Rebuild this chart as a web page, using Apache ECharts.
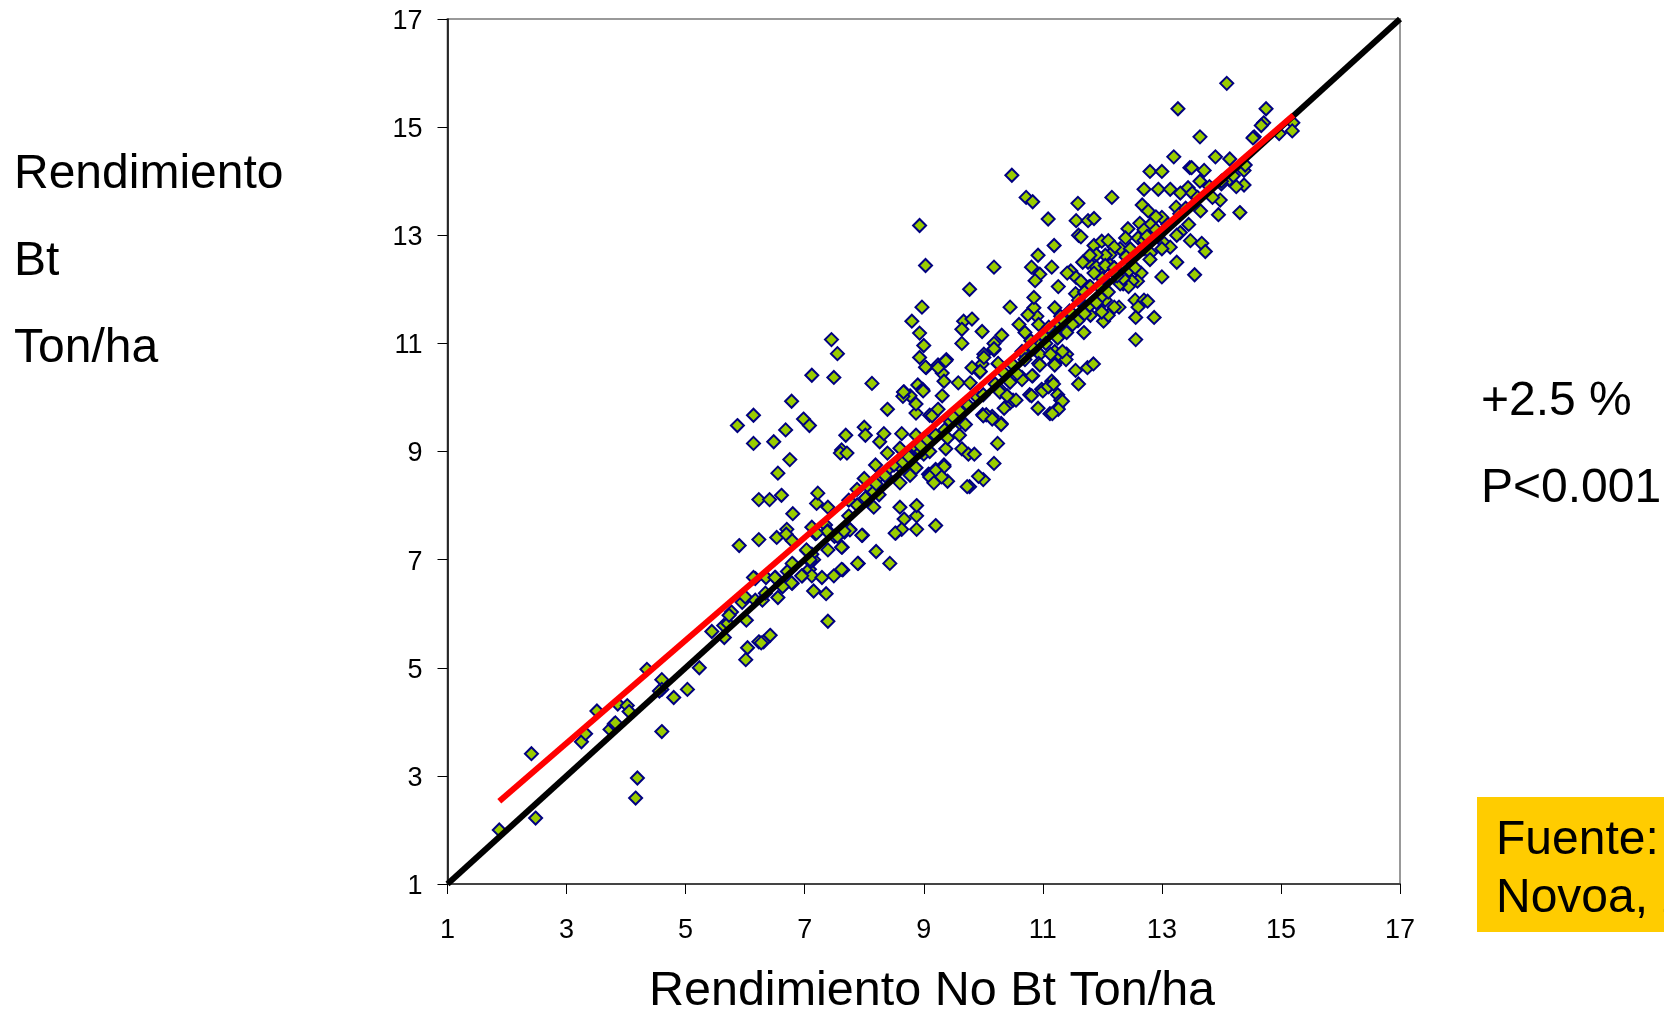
<!DOCTYPE html>
<html>
<head>
<meta charset="utf-8">
<title>Rendimiento Bt vs No Bt</title>
<style>html,body{margin:0;padding:0;background:#fff;overflow:hidden}#c{width:1664px;height:1011px}</style>
<script src="https://cdn.jsdelivr.net/npm/echarts@6/dist/echarts.min.js"></script>
</head>
<body>
<div id="c"></div>
<script>
const tickValues = [1,3,5,7,9,11,13,15,17];
const xTitle = 'Rendimiento No Bt Ton/ha';
const yTitleLines = ['Rendimiento','Bt','Ton/ha'];
const noteLines = ['+2.5 %','P<0.001'];
const sourceLines = ['Fuente:','Novoa, 2'];
const identityLine = [[1,1],[17,17]];
const trendLine = [[1.87,2.53],[15.21,15.22]];
const pointsLow = [[1.87,2.0],[2.41,3.41],[2.48,2.22],[3.25,3.63],[3.32,3.78],[3.51,4.2],[3.73,3.86],[3.8,3.96],[3.82,3.98],[3.86,4.33],[4.02,4.3],[4.05,4.19],[4.19,2.96],[4.16,2.59],[4.35,4.97],[4.6,4.78],[4.6,3.82],[4.6,4.6],[4.56,4.57],[4.8,4.45],[5.03,4.6],[5.23,5.0],[5.44,5.67],[5.64,5.78],[5.65,5.56],[5.71,5.82],[5.77,6.03],[5.73,5.97],[5.95,6.21],[6.0,6.31],[6.02,5.88],[6.04,5.37],[6.01,5.15],[6.23,5.48],[6.31,5.48],[6.27,5.46],[6.42,5.6],[6.17,6.25],[6.29,6.25],[6.34,6.38],[6.55,6.3],[6.17,6.65],[6.35,6.67],[6.51,6.67],[6.64,6.52],[6.79,6.56],[6.75,6.81],[6.81,6.91],[6.96,6.7],[7.08,6.82],[7.12,6.7],[7.29,6.67],[7.15,6.42],[7.36,6.37],[7.39,5.86],[7.49,6.7],[7.64,6.81],[7.9,6.93],[8.2,7.15],[8.43,6.93],[7.97,7.45],[7.63,7.23],[7.39,7.18],[7.04,7.16],[7.15,7.0],[7.1,6.96],[5.9,7.26],[6.23,7.37],[6.53,7.41],[6.7,7.56],[6.69,7.47],[6.79,7.35],[6.8,7.85],[7.12,7.6],[7.18,7.48],[7.35,7.64],[7.39,7.53],[7.5,7.43],[7.67,7.51],[7.76,7.56],[7.74,7.81],[7.88,8.01],[8.16,7.97],[7.2,8.04],[7.39,7.97],[6.23,8.11],[6.41,8.11],[8.6,7.97],[8.67,7.75],[8.88,7.81],[8.88,8.0],[8.53,7.49],[8.63,7.56],[8.88,7.56],[9.2,7.63],[6.61,8.19],[7.22,8.23],[6.55,8.6],[6.75,8.85]];
const pointsMid = [[5.87,9.48],[6.14,9.67],[6.14,9.15],[6.48,9.18],[6.68,9.4],[6.78,9.93],[6.98,9.6],[7.08,9.48],[7.12,10.41],[7.45,11.07],[7.55,10.81],[7.49,10.37],[8.13,10.26],[7.69,9.3],[8.0,9.45],[8.02,9.3],[8.26,9.18],[8.33,9.33],[8.63,9.33],[8.39,9.78],[8.87,9.71],[8.87,9.88],[8.77,10.03],[8.67,10.1],[8.65,10.02],[8.9,10.23],[8.98,10.15],[8.39,8.97],[7.62,9.03],[7.6,8.97],[7.71,8.97],[8.19,8.75],[8.6,9.06],[8.74,8.93],[8.87,9.07],[8.87,9.3],[9.0,8.95],[8.6,8.42],[8.77,8.56],[8.87,8.7],[8.6,8.72],[8.39,8.66],[8.07,8.35],[8.22,8.5],[9.08,8.58],[9.1,9.67],[8.25,8.2],[8.02,8.14],[7.88,8.3],[8.16,8.25],[7.74,8.1],[8.0,8.5],[9.1,8.57],[9.2,8.67],[9.34,8.75],[9.28,8.55],[9.4,8.45],[9.18,8.45],[9.77,8.35],[9.73,8.35],[8.52,7.49],[7.96,7.45],[7.76,7.55],[7.62,7.23],[7.38,7.52],[7.2,7.49],[7.55,7.43],[7.66,7.53],[7.89,6.93],[7.62,6.82],[6.95,6.7],[6.78,6.57],[6.14,6.67],[6.5,6.67],[6.63,6.5],[7.12,7.1],[7.03,7.18],[7.09,7.0],[6.71,6.78],[6.79,6.93],[8.2,8.4],[8.35,8.55],[8.5,8.75],[8.65,8.8],[8.75,8.9],[8.95,9.0],[9.05,9.2],[9.2,9.3],[9.35,9.4],[9.45,9.55],[9.6,9.75],[9.75,9.85],[9.9,10.0],[10.0,10.05],[10.2,10.25],[10.35,10.45],[10.5,10.6],[9.1,9.0],[8.95,9.1],[9.37,9.05],[9.4,9.25],[9.6,9.3],[9.64,9.05],[9.75,8.95],[9.85,8.95],[10.24,9.15],[10.18,8.78],[9.34,8.72],[9.2,8.65],[9.1,8.53],[9.3,8.53],[9.17,8.42],[10.0,8.48],[9.92,8.54],[10.3,9.52],[9.99,9.68],[10.15,9.65],[10.05,9.68],[9.5,9.63],[9.6,9.53],[9.14,9.66],[9.24,9.78],[8.99,10.12],[9.31,10.03],[9.04,10.55],[9.24,10.6],[9.38,10.7],[9.31,10.45],[9.34,10.3],[9.58,10.27],[9.78,10.27],[9.81,10.55],[9.98,10.62],[9.94,10.47],[10.01,10.8],[10.18,11.0],[10.18,10.88],[10.25,10.62],[8.93,10.74],[9.03,10.56],[8.66,10.1],[9.7,9.5],[10.0,9.66],[10.15,9.6],[10.3,9.5]];
const pointsUpperOutliers = [[8.93,13.18],[9.03,12.44],[8.97,11.67],[8.8,11.41],[8.93,11.19],[9.0,10.96],[9.77,12.0],[10.18,12.41],[10.45,11.67],[9.67,11.41],[9.81,11.45],[9.64,11.26],[9.98,11.22],[9.64,11.0],[10.31,11.15],[10.18,10.9],[10.01,10.74],[9.37,10.68],[9.24,10.55],[10.25,10.63],[9.95,10.48],[10.48,14.11],[10.72,13.7],[10.83,13.62],[11.09,13.3],[11.59,13.59],[11.56,13.27],[11.76,13.27],[11.86,13.31],[12.16,13.7],[11.6,13.0],[11.19,12.81],[10.92,12.63],[10.81,12.41],[11.15,12.41],[10.95,12.28],[10.87,12.16],[11.26,12.05],[11.47,12.34],[11.41,12.3],[11.64,12.97],[11.86,12.81],[11.99,12.89],[12.1,12.9],[13.27,15.34],[14.09,15.81],[14.75,15.34],[14.71,15.08],[14.67,15.03],[14.55,14.82],[14.53,14.8],[15.2,15.08],[15.19,14.93],[14.97,14.88],[13.64,14.82],[13.2,14.45],[13.9,14.45],[14.14,14.41],[12.8,14.18],[13.0,14.18],[13.47,14.25],[13.5,14.25],[13.71,14.2],[14.38,14.2],[13.64,14.0],[14.38,13.93],[14.25,13.9],[14.13,14.03],[14.0,13.95],[12.7,13.85],[12.94,13.85],[13.14,13.85],[13.31,13.78],[13.44,13.88],[13.51,13.78],[13.98,13.65],[13.95,13.38],[14.31,13.42]];
const pointsDense = [[12.67,13.56],[12.77,13.45],[13.24,13.52],[13.0,13.33],[12.9,13.34],[12.63,13.22],[12.43,13.12],[12.81,13.2],[12.7,13.1],[12.6,12.95],[12.39,12.95],[12.3,12.75],[12.2,12.78],[12.13,12.64],[12.13,12.45],[12.47,12.75],[12.7,12.75],[12.81,12.67],[13.04,12.85],[13.14,12.78],[13.31,13.05],[13.48,12.9],[13.67,12.85],[13.73,12.7],[13.25,12.5],[13.0,12.23],[13.55,12.27],[12.65,12.3],[12.45,12.35],[12.59,12.15],[12.35,12.1],[12.55,11.8],[12.7,11.8],[12.6,11.67],[12.28,11.67],[12.05,11.8],[12.0,12.4],[12.2,12.4],[12.05,12.63],[11.9,12.64],[11.76,12.5],[11.67,12.5],[11.79,12.63],[11.9,12.41],[12.05,12.44],[11.86,12.3],[11.56,12.22],[11.64,12.15],[11.55,11.92],[11.78,12.05],[12.5,12.15],[12.44,12.05],[12.3,12.1],[12.76,11.78],[12.87,11.48],[12.56,11.48],[12.56,11.07],[12.2,11.67],[12.02,11.41],[12.1,11.52],[11.8,11.52],[11.99,11.58],[11.97,11.85],[11.79,11.7],[11.65,11.55],[11.59,11.42],[11.69,11.2],[11.4,11.2],[11.25,11.35],[11.2,11.2],[11.2,11.66],[10.9,11.5],[10.85,11.66],[10.85,11.85],[10.75,11.53],[10.6,11.35],[10.93,11.35],[10.7,11.2],[10.9,11.0],[11.25,11.1],[11.2,10.85],[10.95,10.8],[11.4,10.8],[11.25,10.7],[11.2,10.63],[10.93,10.63],[11.55,10.5],[11.75,10.55],[11.85,10.62],[10.83,10.4],[10.65,10.37],[10.45,10.28],[10.3,10.13],[10.45,9.9],[10.5,9.95],[10.35,9.8],[10.78,10.05],[10.98,10.15],[11.1,10.2],[11.15,10.3],[11.25,10.05],[11.3,9.95],[11.25,9.8],[11.12,9.7],[10.92,9.8],[11.6,10.25],[10.81,10.03],[11.0,10.12],[11.09,10.2],[11.18,10.25],[11.33,9.93],[11.26,9.78],[11.16,9.7],[10.55,9.95],[10.28,10.1],[10.4,10.03],[10.65,10.33],[10.82,10.4],[10.57,10.44],[10.95,10.6],[11.2,10.6],[11.39,10.7],[11.13,10.8],[11.33,10.85],[14.0,14.0],[13.6,13.7],[13.8,13.9],[13.3,13.4],[13.4,13.5],[13.1,13.2],[12.9,13.1],[12.7,12.9],[12.4,12.6],[12.2,12.4],[12.0,12.2],[11.8,12.05],[11.6,11.8],[11.45,11.6],[11.3,11.5],[11.1,11.3],[11.0,11.15],[10.8,11.05],[10.65,10.85],[11.5,11.35],[11.7,11.55],[11.9,11.75],[12.1,11.95],[12.35,12.2],[12.55,12.4],[12.8,12.55],[13.0,12.75],[13.25,13.0],[13.45,13.2],[13.65,13.45],[13.85,13.7],[14.2,14.1],[14.4,14.3],[12.25,12.25],[12.75,12.98],[11.05,11.0],[11.35,11.42],[10.7,10.7],[10.85,10.9],[11.7,11.95],[11.95,12.05]];
const points = pointsLow.concat(pointsMid, pointsUpperOutliers, pointsDense);

const font = '"Liberation Sans", Arial, sans-serif';
const graphics = [
  {type:'rect', shape:{x:1477,y:797,width:187,height:135}, style:{fill:'#FFCC00'}, silent:true},
];
function text(x, baseline, str, size, align) {
  graphics.push({type:'text', x, y:baseline - size*0.79, silent:true,
    style:{text:str, x:0, y:0, fill:'#000', fontFamily:font, fontSize:size, textAlign:align||'left', verticalAlign:'top'}});
}
[189,276,363].forEach((b,i)=>text(14,b,yTitleLines[i],48));
[416,503].forEach((b,i)=>text(1481,b,noteLines[i],48));
[855,913].forEach((b,i)=>text(1496,b,sourceLines[i],48));
text(932,1005,xTitle,48.5,'center');

const chart = echarts.init(document.getElementById('c'), null, {renderer:'canvas'});
const axisBase = {type:'value', min:1, max:17, splitLine:{show:false},
  axisLine:{show:true, onZero:false, lineStyle:{color:'#000', width:1.5}},
  axisTick:{show:true, length:10, lineStyle:{color:'#000', width:1}, customValues:tickValues},
};
chart.setOption({
  animation:false,
  backgroundColor:'#fff',
  grid:{left:447.5, top:19, width:952.5, height:865, show:true, borderColor:'#999', borderWidth:2, backgroundColor:'transparent'},
  xAxis:Object.assign({}, axisBase, {axisLabel:{fontFamily:font, fontSize:27, color:'#000', margin:33, customValues:tickValues, showMinLabel:true, showMaxLabel:true},
    axisLine:{show:true, onZero:false, lineStyle:{color:'#444', width:2}}}),
  yAxis:Object.assign({}, axisBase, {axisLabel:{fontFamily:font, fontSize:27, color:'#000', margin:25, verticalAlign:'top', lineHeight:5, customValues:tickValues, showMinLabel:true, showMaxLabel:true}}),
  graphic:graphics,
  series:[
    {name:'Datos', type:'scatter', data:points, symbol:'diamond', symbolSize:13, z:2,
      itemStyle:{color:'#99CC00', borderColor:'#000080', borderWidth:2, opacity:1}},
    {name:'1:1', type:'line', data:identityLine, showSymbol:false, symbol:'none', z:3, clip:false,
      lineStyle:{color:'#000', width:6, cap:'butt'}},
    {name:'Ajuste', type:'line', data:trendLine, showSymbol:false, symbol:'none', z:4, clip:false,
      lineStyle:{color:'#FF0000', width:6, cap:'butt'}}
  ]
});
</script>
</body>
</html>
